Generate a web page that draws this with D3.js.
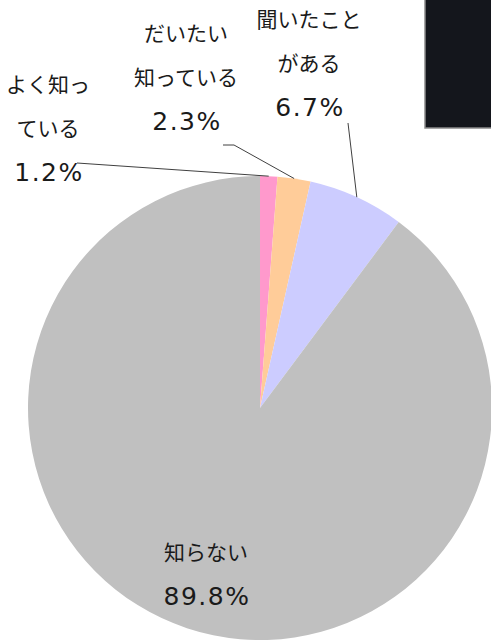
<!DOCTYPE html>
<html>
<meta charset="utf-8">
<style>
  body { margin: 0; background: #fff; }
  text { font-family: "Noto Sans CJK JP", "Noto Sans", sans-serif; font-size: 21px; fill: #1a1a1a; }
  .pct { font-family: "DejaVu Sans", sans-serif; font-size: 25px; letter-spacing: 1.5px; }
  .leader { stroke: #404040; stroke-width: 1px; fill: none; }
</style>
<body>
<div id="viz"></div>
<script src="https://d3js.org/d3.v7.min.js"></script>
<script>
  // data
  var categories = ["よく知っている", "だいたい知っている", "聞いたことがある", "知らない"];
  var values = [1.2, 2.3, 6.7, 89.8];
  var colors = ["#ff99cc", "#ffcc99", "#ccccff", "#c0c0c0"];
  var labelLines = [["よく知っ", "ている"], ["だいたい", "知っている"], ["聞いたこと", "がある"], ["知らない"]];

  var width = 491, height = 640;
  var cx = 260, cy = 408, radius = 232;

  var svg = d3.select("#viz").append("svg")
    .attr("width", width)
    .attr("height", height);

  // dark block top right
  svg.append("rect")
    .attr("x", 425).attr("y", -2).attr("width", 70).attr("height", 130)
    .attr("fill", "#14161c").attr("stroke", "#8a8a8a").attr("stroke-width", 1.5);

  var pie = d3.pie().sort(null).value(function(d) { return d; });
  var arc = d3.arc().innerRadius(0).outerRadius(radius);
  var arcs = pie(values);

  var g = svg.append("g").attr("transform", "translate(" + cx + "," + cy + ")");
  g.selectAll("path")
    .data(arcs)
    .enter().append("path")
    .attr("d", arc)
    .attr("fill", function(d, i) { return colors[i]; });

  // label placement (center x, first line y), line height 44
  var labelPos = [[48, 85], [186, 34], [309, 20], [206, 553]];
  // leader line start points (relative to page)
  var leaderStart = [[[77, 163]], [[223, 145], [234, 145]], [[348, 123]], null];

  arcs.forEach(function(d, i) {
    var t = svg.append("text")
      .attr("text-anchor", "middle");
    labelLines[i].forEach(function(s, k) {
      t.append("tspan")
        .attr("x", labelPos[i][0])
        .attr("y", labelPos[i][1] + k * 44)
        .attr("dy", "0.35em")
        .text(s);
    });
    t.append("tspan")
      .attr("class", "pct")
      .attr("x", labelPos[i][0] + 1)
      .attr("y", labelPos[i][1] + labelLines[i].length * 44 - 1)
      .attr("dy", "0.36em")
      .text(d3.format(".1f")(values[i]) + "%");
    if (leaderStart[i]) {
      var mid = (d.startAngle + d.endAngle) / 2;
      var end = [cx + radius * Math.sin(mid), cy - radius * Math.cos(mid)];
      svg.append("path")
        .attr("class", "leader")
        .attr("d", d3.line()(leaderStart[i].concat([end])));
    }
  });
</script>
</body>
</html>
